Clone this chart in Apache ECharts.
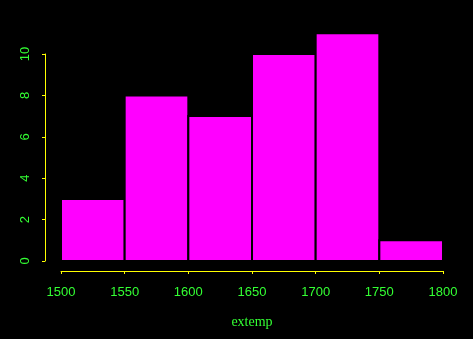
<!DOCTYPE html>
<html><head><meta charset="utf-8">
<script src="https://cdn.jsdelivr.net/npm/echarts@6/dist/echarts.min.js"></script>
<style>html,body{margin:0;padding:0;background:#000}#c{width:473px;height:339px}</style>
</head><body><div id="c"></div>
<script>
var binStarts = [1500, 1550, 1600, 1650, 1700, 1750];
var binEnds = [1550, 1600, 1650, 1700, 1750, 1800];
var counts = [3, 8, 7, 10, 11, 1];
var xTicks = [1500, 1550, 1600, 1650, 1700, 1750, 1800];
var yTicks = [0, 2, 4, 6, 8, 10];

var green = '#33ff33';
var yellow = '#ffff00';
var data = binStarts.map(function (s, i) { return [s, binEnds[i], counts[i]]; });

var chart = echarts.init(document.getElementById('c'));
chart.setOption({
  backgroundColor: '#000',
  animation: false,
  grid: { left: 61, right: 30, top: 54, bottom: 78 },
  xAxis: {
    type: 'value', min: xTicks[0], max: xTicks[xTicks.length - 1], interval: 50,
    offset: 10,
    axisLine: { show: true, onZero: false, lineStyle: { color: yellow, width: 1 } },
    axisTick: { show: true, length: 3, inside: false, lineStyle: { color: yellow, width: 1 } },
    splitLine: { show: false },
    axisLabel: { color: green, fontSize: 13, fontFamily: 'Liberation Sans', margin: 15,
      formatter: function (v) { return String(v); } },
    name: 'extemp', nameLocation: 'middle', nameGap: 44,
    nameTextStyle: { color: green, fontSize: 14, fontFamily: 'Liberation Serif' }
  },
  yAxis: {
    type: 'value', min: yTicks[0], max: yTicks[yTicks.length - 1], interval: 2,
    offset: 16,
    axisLine: { show: true, onZero: false, lineStyle: { color: yellow, width: 1 } },
    axisTick: { show: true, length: 3, lineStyle: { color: yellow, width: 1 } },
    splitLine: { show: false },
    axisLabel: { color: green, fontSize: 13, fontFamily: 'Liberation Sans', rotate: 90, margin: 13,
      formatter: function (v) { return String(v); } }
  },
  series: [{
    type: 'custom',
    clip: false,
    data: data,
    renderItem: function (params, api) {
      var p0 = api.coord([api.value(0), 0]);
      var p1 = api.coord([api.value(1), api.value(2)]);
      return {
        type: 'rect',
        shape: { x: p0[0], y: p1[1], width: p1[0] - p0[0], height: p0[1] - p1[1] },
        style: { fill: '#ff00ff', stroke: '#000', lineWidth: 2 }
      };
    }
  }]
});
</script></body></html>
